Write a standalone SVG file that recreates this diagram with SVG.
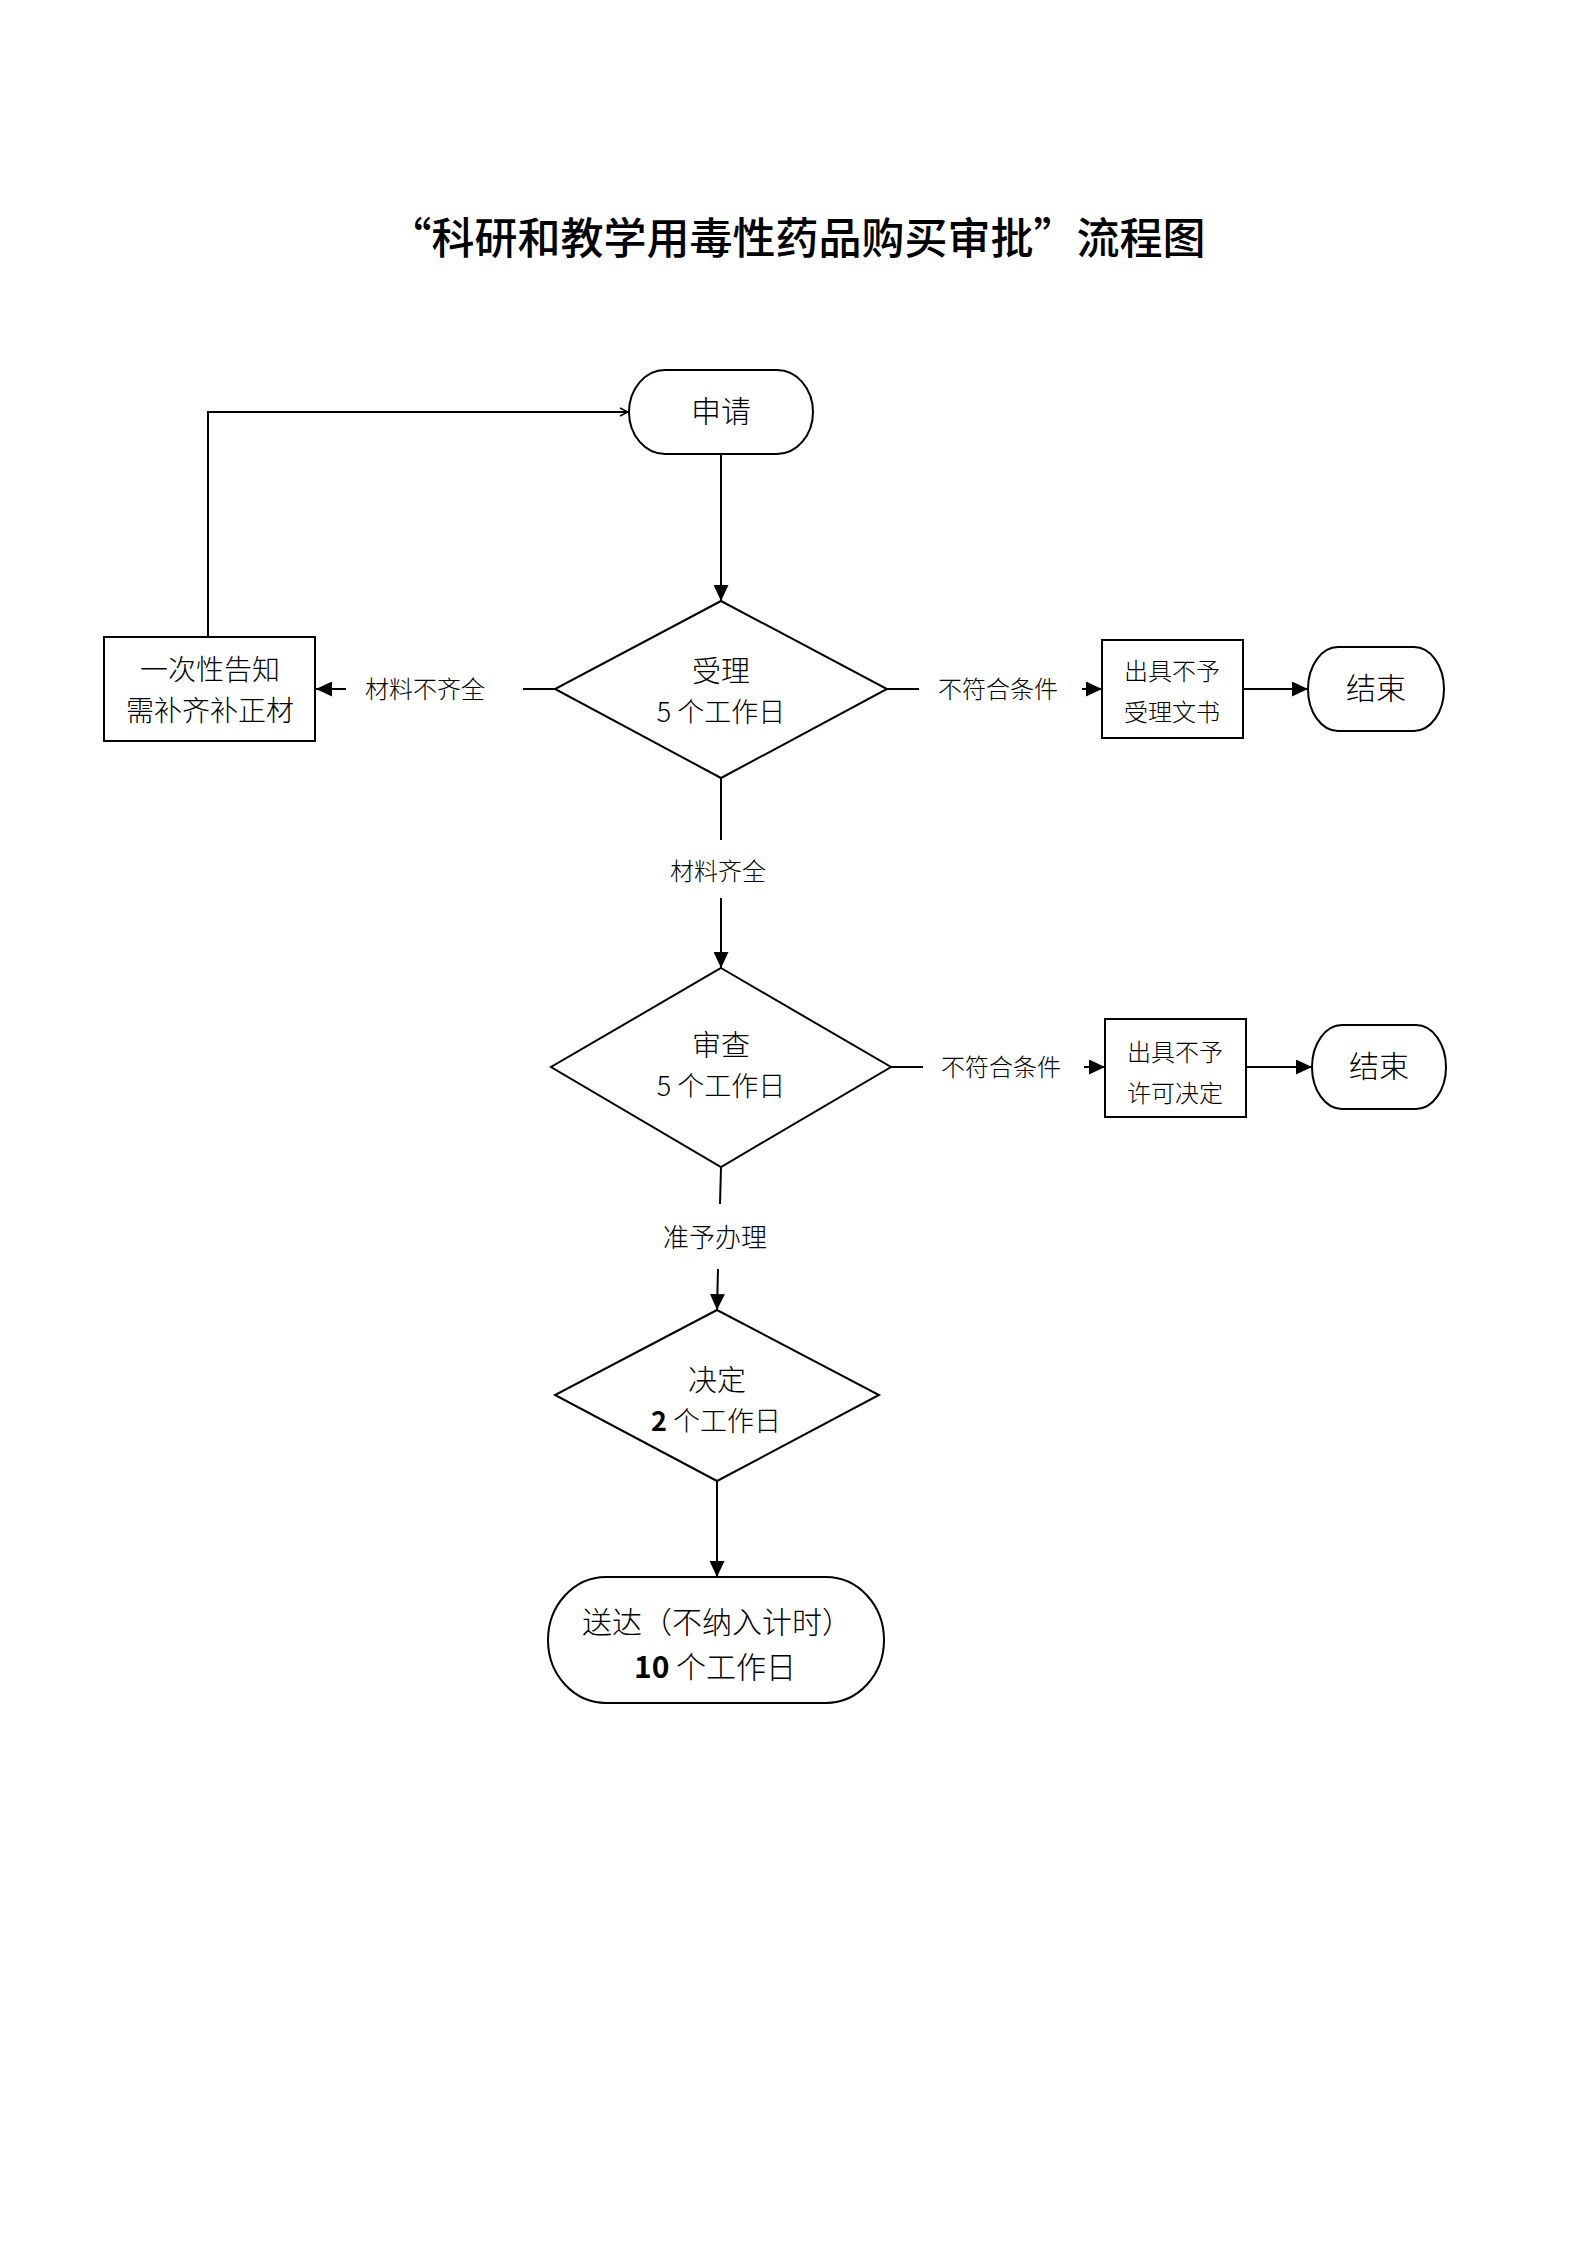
<svg xmlns="http://www.w3.org/2000/svg" width="1587" height="2245" viewBox="0 0 1587 2245">
<style>
text{font-family:"Noto Sans CJK SC","Noto Sans CJK TC",sans-serif;fill:#000;text-anchor:middle;dominant-baseline:central;font-weight:300}
.title{font-size:43px;font-weight:500}
.shape{fill:#fff;stroke:#000;stroke-width:2}
.conn{fill:none;stroke:#000;stroke-width:2}
.lbl{font-size:24px}
.t30{font-size:30px}
.t29{font-size:29px}
.t27{font-size:27px}
.t28{font-size:28px}
.t24{font-size:24px}
.b{font-weight:bold}
</style>
<defs>
<marker id="arr" markerUnits="userSpaceOnUse" markerWidth="16" markerHeight="15" refX="16" refY="7.5" orient="auto">
<path d="M0,0 L16,7.5 L0,15 z" fill="#000"/>
</marker>
<marker id="open" markerUnits="userSpaceOnUse" markerWidth="10" markerHeight="10" refX="9" refY="5" orient="auto">
<path d="M1,1 L9,5 L1,9" fill="none" stroke="#000" stroke-width="1.5"/>
</marker>
</defs>
<rect width="1587" height="2245" fill="#fff"/>
<text class="title" x="797" y="235">“科研和教学用毒性药品购买审批”流程图</text>

<g id="connectors">
<line class="conn" x1="721" y1="454" x2="721" y2="601" marker-end="url(#arr)"/>
<line class="conn" x1="555" y1="689" x2="523" y2="689"/>
<line class="conn" x1="346" y1="689" x2="316" y2="689" marker-end="url(#arr)"/>
<polyline class="conn" points="208,637 208,412 628,412" marker-end="url(#open)"/>
<line class="conn" x1="887" y1="689" x2="919" y2="689"/>
<line class="conn" x1="1082" y1="689" x2="1102" y2="689" marker-end="url(#arr)"/>
<line class="conn" x1="1243" y1="689" x2="1308" y2="689" marker-end="url(#arr)"/>
<line class="conn" x1="721" y1="778" x2="721" y2="840"/>
<line class="conn" x1="721" y1="898" x2="721" y2="968" marker-end="url(#arr)"/>
<line class="conn" x1="891" y1="1067" x2="923" y2="1067"/>
<line class="conn" x1="1084" y1="1067" x2="1105" y2="1067" marker-end="url(#arr)"/>
<line class="conn" x1="1246" y1="1067" x2="1312" y2="1067" marker-end="url(#arr)"/>
<line class="conn" x1="721" y1="1167" x2="720" y2="1204"/>
<line class="conn" x1="718" y1="1269" x2="717" y2="1310" marker-end="url(#arr)"/>
<line class="conn" x1="717" y1="1481" x2="717" y2="1577" marker-end="url(#arr)"/>
<text class="lbl" x="425" y="687">材料不齐全</text>
<text class="lbl" x="998" y="687">不符合条件</text>
<text class="lbl" x="718" y="869">材料齐全</text>
<text class="lbl" x="1001" y="1065">不符合条件</text>
<text x="715" y="1235" style="font-size:26px">准予办理</text>
</g>

<g id="apply">
<rect class="shape" x="629" y="370" width="184" height="84" rx="36" ry="42"/>
<text class="t30" x="721" y="409">申请</text>
</g>

<g id="accept">
<polygon class="shape" points="721,601 887,689 721,778 555,689"/>
<text class="t29" x="721" y="669">受理</text>
<text class="t27" x="721" y="710">5 个工作日</text>
</g>

<g id="notify">
<rect class="shape" x="104" y="637" width="211" height="104"/>
<text class="t28" x="210" y="668">一次性告知</text>
<text class="t28" x="210" y="709">需补齐补正材</text>
</g>

<g id="reject1">
<rect class="shape" x="1102" y="640" width="141" height="98"/>
<text class="t24" x="1172" y="669">出具不予</text>
<text class="t24" x="1172" y="710">受理文书</text>
</g>

<g id="end1">
<rect class="shape" x="1308" y="647" width="136" height="84" rx="30" ry="42"/>
<text class="t30" x="1376" y="686">结束</text>
</g>

<g id="review">
<polygon class="shape" points="721,968 891,1067 721,1167 551,1067"/>
<text class="t29" x="721" y="1043">审查</text>
<text class="t27" x="721" y="1084">5 个工作日</text>
</g>

<g id="reject2">
<rect class="shape" x="1105" y="1019" width="141" height="98"/>
<text class="t24" x="1175" y="1050">出具不予</text>
<text class="t24" x="1175" y="1091">许可决定</text>
</g>

<g id="end2">
<rect class="shape" x="1312" y="1025" width="134" height="84" rx="30" ry="42"/>
<text class="t30" x="1379" y="1064">结束</text>
</g>

<g id="decide">
<polygon class="shape" points="717,1310 879,1395 717,1481 555,1395"/>
<text class="t29" x="717" y="1378">决定</text>
<text class="t27" x="716" y="1419"><tspan class="b">2</tspan> 个工作日</text>
</g>

<g id="deliver">
<rect class="shape" x="548" y="1577" width="336" height="126" rx="58" ry="63"/>
<text class="t30" x="717" y="1620">送达（不纳入计时）</text>
<text class="t30" x="715" y="1665"><tspan class="b">10</tspan> 个工作日</text>
</g>
</svg>
